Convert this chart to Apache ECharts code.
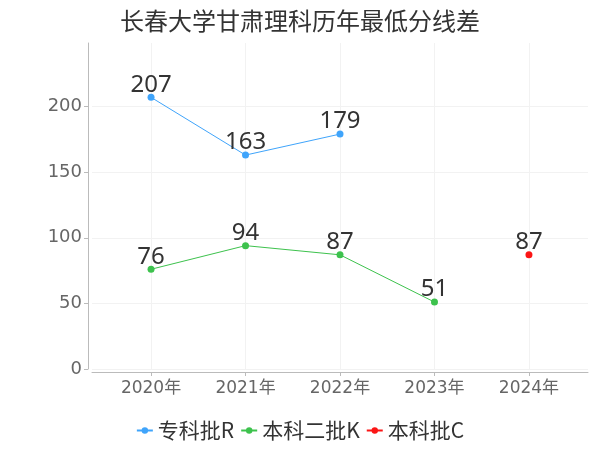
<!DOCTYPE html>
<html><head><meta charset="utf-8">
<script src="https://cdn.jsdelivr.net/npm/echarts@6/dist/echarts.min.js"></script>
<style>html,body{margin:0;padding:0;background:#fff}#c{width:600px;height:450px}</style>
</head><body><div id="c"></div>
<script>
const categories = ['2020年','2021年','2022年','2023年','2024年'];
const seriesNames = ['专科批R','本科二批K','本科批C'];
const zhuanke = [207, 163, 179, null, null];
const benke2 = [76, 94, 87, 51, null];
const benkeC = [null, null, null, null, 87];
const yTicks = [0, 50, 100, 150, 200];
const colors = ['#3fa4fb', '#3dc24d', '#fb1515'];

function toPairs(arr){ const out=[]; arr.forEach((v,i)=>{ if(v!==null) out.push([i,v]); }); return out; }
const idx = categories.map((_,i)=>i);
const font = 'Noto Sans CJK SC, Noto Sans, sans-serif';
const axisFont = 'DejaVu Sans, Noto Sans CJK SC, sans-serif';

const chart = echarts.init(document.getElementById('c'), null, {renderer:'canvas'});
const mk = (name, data, color) => ({
  name, type:'line', data: toPairs(data), color,
  symbol:'circle', symbolSize:7, showSymbol:true,
  lineStyle:{width:1, color},
  itemStyle:{color},
  label:{show:true, position:'top', distance:-3, fontSize:24, color:'#333', fontFamily:'Noto Sans, sans-serif'}
});
chart.setOption({
  animation:false,
  backgroundColor:'#fff',
  title:{text:'长春大学甘肃理科历年最低分线差', left:'center', top:4, textStyle:{fontSize:24, fontWeight:'normal', color:'#333', fontFamily:font}},
  legend:{bottom:4, left:'center', itemWidth:16, itemHeight:8, itemGap:6, textStyle:{fontSize:21, color:'#333', fontFamily:font}, data:seriesNames},
  grid:{left:92, right:12, top:43, bottom:81, containLabel:false},
  xAxis:{type:'value', min:-0.625, max:4.625, offset:3,
    axisLine:{show:true, onZero:false, lineStyle:{color:'#bbb'}},
    axisTick:{show:true, customValues: idx, length:4, lineStyle:{color:'#bbb'}},
    axisLabel:{customValues: idx, formatter:v=>categories[Math.round(v)], fontSize:17, color:'#666', margin:8, fontFamily:axisFont},
    splitLine:{show:true, lineStyle:{color:'#f2f2f2'}}
  },
  yAxis:{type:'value', min:0, max:v=>v.max*1.2, offset:4,
    axisLine:{show:true, onZero:false, lineStyle:{color:'#bbb'}},
    axisTick:{show:true, customValues:yTicks, length:4, lineStyle:{color:'#bbb'}},
    axisLabel:{customValues:yTicks, fontSize:18, color:'#666', margin:6, fontFamily:axisFont},
    splitLine:{show:true, lineStyle:{color:'#f2f2f2'}}
  },
  series:[mk(seriesNames[0], zhuanke, colors[0]), mk(seriesNames[1], benke2, colors[1]), mk(seriesNames[2], benkeC, colors[2])]
});
</script></body></html>
